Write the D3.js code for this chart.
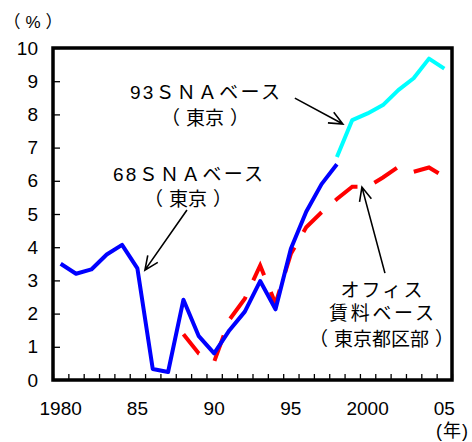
<!DOCTYPE html>
<html>
<head>
<meta charset="utf-8">
<script src="https://cdn.jsdelivr.net/npm/d3@7"></script>
<style>
  html, body { margin: 0; padding: 0; background: #fff; }
  svg { display: block; }
  text { font-family: "Liberation Sans", Arial, "Noto Sans CJK JP", sans-serif; fill: #000; }
</style>
</head>
<body>
<svg id="chart" width="472" height="442"></svg>
<script>
// Years on the category axis
const years = d3.range(1980, 2006);
const yearLabels = ["1980", "85", "90", "95", "2000", "05"];
const labelYears = [1980, 1985, 1990, 1995, 2000, 2005];
const yTicks = [0, 1, 2, 3, 4, 5, 6, 7, 8, 9, 10];

// 68SNA basis (Tokyo), 1980-1998
const sna68Years = d3.range(1980, 1999);
const sna68 = [3.5, 3.2, 3.33, 3.78, 4.07, 3.36, 0.33, 0.24, 2.42, 1.32, 0.8, 1.5,
               2.06, 2.98, 2.13, 3.95, 5.07, 5.9, 6.5];

// 93SNA basis (Tokyo), 1998-2005
const sna93Years = d3.range(1998, 2006);
const sna93 = [6.72, 7.83, 8.03, 8.28, 8.73, 9.09, 9.68, 9.38];

// Office rent basis (Tokyo wards), 1988-2005
const officeYears = d3.range(1988, 2006);
const office = [1.38, 0.8, 0.55, 1.82, 2.45, 3.45, 2.3, 3.8, 4.6, 5.05, 5.45, 5.82,
                5.82, 6.1, 6.42, 6.27, 6.4, 6.12];

const svg = d3.select("#chart");
const plotLeft = 53, plotRight = 452, plotTop = 48, plotBottom = 380;

const x = d3.scaleBand().domain(years).range([plotLeft, plotRight]).paddingInner(0).paddingOuter(0);
const bw = x.bandwidth();
// continuous year position (band centres), used for lines and annotations
const xc = d3.scaleLinear().domain([1980, 2005]).range([x(1980) + bw / 2, x(2005) + bw / 2]);
// band boundaries, used for the bottom tick marks
const xEdge = d3.scaleLinear().domain([1980, 2006]).range([plotLeft, plotRight]);
const y = d3.scaleLinear().domain([0, 10]).range([plotBottom, plotTop]);

// y axis: inward ticks, labels on the left
const yAxis = svg.append("g")
  .attr("transform", `translate(${plotLeft},0)`)
  .call(d3.axisLeft(y).tickValues(yTicks).tickSizeInner(-7).tickSizeOuter(0).tickPadding(15));
yAxis.select(".domain").remove();
yAxis.selectAll(".tick line").attr("stroke", "#000").attr("stroke-width", 1.3);
yAxis.selectAll(".tick text").attr("font-size", 19).attr("fill", "#000");

// x axis tick marks at band boundaries
const xTickAxis = svg.append("g")
  .attr("transform", `translate(0,${plotBottom})`)
  .call(d3.axisBottom(xEdge).tickValues(d3.range(1980, 2007)).tickSizeInner(-6).tickSizeOuter(0).tickFormat(""));
xTickAxis.select(".domain").remove();
xTickAxis.selectAll(".tick line").attr("stroke", "#000").attr("stroke-width", 1.3);

// x axis labels at band centres
const xLabelAxis = svg.append("g")
  .attr("transform", `translate(0,${plotBottom})`)
  .call(d3.axisBottom(x).tickValues(labelYears).tickSize(0).tickPadding(22)
    .tickFormat((d, i) => yearLabels[i]));
xLabelAxis.select(".domain").remove();
xLabelAxis.selectAll(".tick text").attr("font-size", 19).attr("fill", "#000");

// frame
svg.append("rect")
  .attr("x", plotLeft).attr("y", plotTop)
  .attr("width", plotRight - plotLeft).attr("height", plotBottom - plotTop)
  .attr("fill", "none").attr("stroke", "#000").attr("stroke-width", 3.5);

// bracketed text: parentheses set apart from their contents
function bracketed(sel, open, inner, close, gap) {
  sel.append("tspan").text(open);
  sel.append("tspan").attr("dx", gap).text(inner);
  sel.append("tspan").attr("dx", gap).text(close);
  return sel;
}

// unit labels
bracketed(svg.append("text").attr("x", 33).attr("y", 22).attr("text-anchor", "middle")
  .attr("dominant-baseline", "central").attr("font-size", 17), "（", "%", "）", 5);
bracketed(svg.append("text").attr("x", 452).attr("y", 431).attr("text-anchor", "middle")
  .attr("dominant-baseline", "central").attr("font-size", 18), "(", "年", ")", 1);

const line = d3.line().x(d => xc(d[0])).y(d => y(d[1]));

svg.append("path")
  .datum(officeYears.map((yr, i) => [yr, office[i]]))
  .attr("d", line).attr("fill", "none")
  .attr("stroke", "#ff0000").attr("stroke-width", 4)
  .attr("stroke-dasharray", "27,18").attr("stroke-dashoffset", 2);

svg.append("path")
  .datum(sna68Years.map((yr, i) => [yr, sna68[i]]))
  .attr("d", line).attr("fill", "none")
  .attr("stroke", "#0000ff").attr("stroke-width", 4).attr("stroke-linejoin", "round");

svg.append("path")
  .datum(sna93Years.map((yr, i) => [yr, sna93[i]]))
  .attr("d", line).attr("fill", "none")
  .attr("stroke", "#00ffff").attr("stroke-width", 4).attr("stroke-linejoin", "round");

// annotations placed in data coordinates: plain lines [value, text, width],
// bracketed lines [value, inner text, null]
const notes = [
  { cx: 1989.4, lines: [[8.65, "93ＳＮＡベース", 150], [7.9, "東京", null]] },
  { cx: 1988.3, lines: [[6.2, "68ＳＮＡベース", 150], [5.46, "東京", null]] },
  { cx: 2000.9, lines: [[2.71, "オフィス", 82], [1.99, "賃料ベース", 105], [1.24, "東京都区部", null]] }
];
notes.forEach(n => {
  n.lines.forEach(([v, t, w]) => {
    const el = svg.append("text")
      .attr("x", xc(n.cx)).attr("y", y(v))
      .attr("text-anchor", "middle").attr("dominant-baseline", "central")
      .attr("font-size", 19);
    if (w) el.attr("textLength", w).attr("lengthAdjust", "spacing").text(t);
    else bracketed(el, "（", t, "）", 6);
  });
});

// arrows: [fromYear, fromValue, toYear, toValue]
const arrows = [
  [1995.26, 8.49, 1998.39, 7.71],
  [1988.23, 5.12, 1985.49, 3.31],
  [2001.13, 3.22, 1999.63, 5.81]
];
arrows.forEach(([x1, y1, x2, y2]) => {
  const ax = xc(x1), ay = y(y1), bx = xc(x2), by = y(y2);
  const ang = Math.atan2(by - ay, bx - ax);
  const L = 15, spread = 0.42;
  const p = d3.path();
  p.moveTo(ax, ay); p.lineTo(bx, by);
  p.moveTo(bx - L * Math.cos(ang - spread), by - L * Math.sin(ang - spread));
  p.lineTo(bx, by);
  p.lineTo(bx - L * Math.cos(ang + spread), by - L * Math.sin(ang + spread));
  svg.append("path").attr("d", p.toString())
    .attr("fill", "none").attr("stroke", "#000").attr("stroke-width", 1.6);
});
</script>
</body>
</html>
